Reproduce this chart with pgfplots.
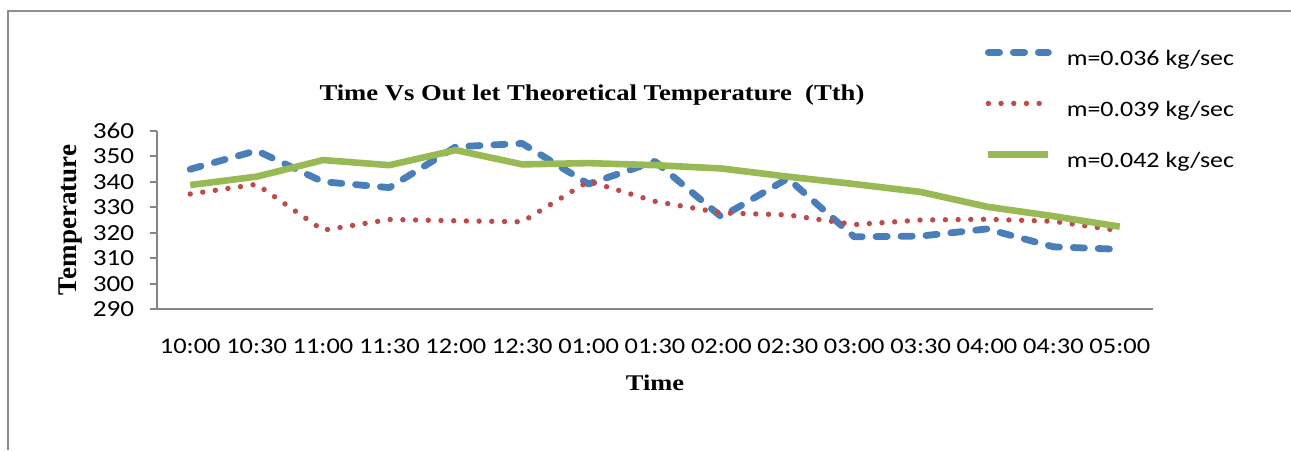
\documentclass[border=0pt]{standalone}
\usepackage{pgfplots}
\pgfplotsset{compat=1.18}
\usepackage{fontspec}
\setmainfont{Carlito}
\newfontfamily\calf{Carlito}[FakeStretch=1.18]
\newfontfamily\tnr{Liberation Serif}[FakeStretch=1.18]
\newfontfamily\tnrplain{Liberation Serif}
\definecolor{sblue}{HTML}{4A7EBB}
\definecolor{sred}{HTML}{BE4B48}
\definecolor{sgreen}{HTML}{98B954}
\definecolor{axgray}{HTML}{868686}
\definecolor{framegray}{HTML}{8E8E8E}
\begin{document}
\begin{tikzpicture}
\path[use as bounding box] (0,0) rectangle (645.5pt,-225pt);
\draw[color=framegray, line width=1pt] (645.5pt,-5.5pt) -- (3.85pt,-5.5pt) -- (3.85pt,-225pt);
\begin{axis}[
  at={(78.5pt,-154.65pt)}, anchor=south west,
  scale only axis, width=498pt, height=89.3pt,
  clip=false,
  xmin=-0.5, xmax=14.5, ymin=290, ymax=360,
  ytick={290,300,...,360},
  xtick={0,...,14},
  xticklabels={10:00,10:30,11:00,11:30,12:00,12:30,01:00,01:30,02:00,02:30,03:00,03:30,04:00,04:30,05:00},
  axis x line=bottom, axis y line=left,
  axis line style={-, color=axgray, line width=1pt},
  tick align=outside,
  major tick length=3.5pt,
  ytick style={color=axgray, line width=1pt},
  xtick style={draw=none},
  /pgf/number format/assume math mode=true,
  xticklabel style={font=\calf\fontsize{11.2}{13}\selectfont, anchor=center, yshift=-15pt},
  yticklabel style={font=\calf\fontsize{11.5}{13}\selectfont, anchor=east, inner xsep=0pt, xshift=-7.75pt},
  every axis title shift=0pt,
  title={Time Vs Out let Theoretical Temperature\ \ (Tth)},
  title style={at={(axis description cs:0.4367,1.2)}, anchor=center, font=\tnr\bfseries\fontsize{11.3}{13}\selectfont},
  xlabel={Time},
  xlabel style={at={(axis description cs:0.5,-0.4127)}, anchor=center, font=\tnr\bfseries\fontsize{11.2}{13}\selectfont},
  ylabel={Temperature},
  ylabel style={at={(axis description cs:-0.0873,0.5)}, anchor=center, font=\tnrplain\bfseries\fontsize{13.5}{15}\selectfont},
  legend image code/.code={\draw[#1] (0pt,4pt) -- (30pt,4pt);},
  legend style={at={(axis description cs:0.8313,1.4574)}, anchor=north west, draw=none, fill=none,
    inner sep=0pt, outer sep=0pt, row sep=14.5pt, column sep=7.5pt,
    font=\calf\fontsize{11}{13}\selectfont,
    nodes={inner sep=0pt, text height=8pt, text depth=3pt}},
  legend cell align=left,
  no markers,
]
\addplot[color=sblue, line width=3.4pt, dash pattern=on 5.6pt off 6.9pt, line cap=round, line join=round]
  coordinates {(0,344.9)(1,352.2)(2,340.0)(3,337.7)(4,353.7)(5,355.0)(6,339.1)(7,348.0)(8,326.2)(9,341.3)(10,318.4)(11,318.7)(12,321.5)(13,314.5)(14,313.5)};
\addlegendentry{m=0.036 kg/sec}
\addplot[color=sred, line width=2.7pt, dash pattern=on 0pt off 6.35pt, line cap=round, line join=round]
  coordinates {(0,335.2)(1,339.0)(2,321.0)(3,325.2)(4,324.7)(5,324.3)(6,340.2)(7,332.3)(8,327.8)(9,327.0)(10,323.2)(11,325.0)(12,325.3)(13,324.5)(14,320.8)};
\addlegendentry{m=0.039 kg/sec}
\addplot[color=sgreen, line width=3.3pt, line join=round]
  coordinates {(0,338.7)(1,342.0)(2,348.5)(3,346.5)(4,352.4)(5,346.8)(6,347.3)(7,346.5)(8,345.2)(9,342.0)(10,339.1)(11,336.0)(12,330.2)(13,326.5)(14,322.4)};
\addlegendentry{m=0.042 kg/sec}
\end{axis}
\end{tikzpicture}
\end{document}
